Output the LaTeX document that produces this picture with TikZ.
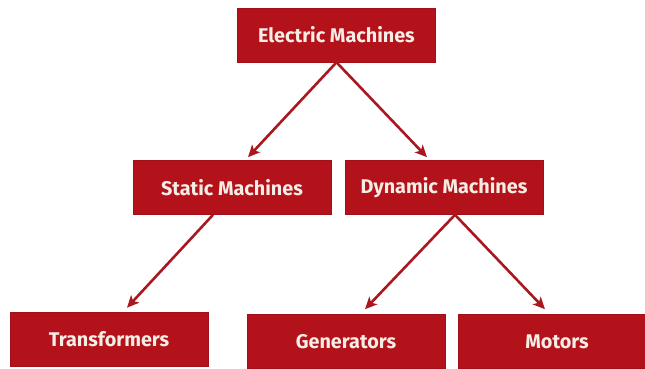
\documentclass[tikz,border=0pt]{standalone}
\usepackage{fontspec}
\setmainfont{Fira Sans}
\usetikzlibrary{arrows.meta,positioning,calc}
\definecolor{boxred}{HTML}{B3121B}
\definecolor{arrowred}{HTML}{A8181E}
\definecolor{boxtext}{HTML}{F6EEE6}
\tikzset{
  machinebox/.style={draw=boxred!90!black, fill=boxred, line width=0.6pt,
    minimum width=198pt, minimum height=54pt, align=center, inner sep=2pt,
    text=boxtext, font=\fontsize{19.8}{23}\selectfont\bfseries},
  branch/.style={-{Stealth[length=12pt, width=11pt, inset=3pt]}, draw=arrowred,
    line width=2.6pt, shorten <=0pt},
}

\begin{document}
\begin{tikzpicture}[x=1pt, y=-1pt]

  \useasboundingbox (0,0) rectangle (645,368);

  \node[machinebox] (em)  at (336.5, 35)  {Electric Machines};
  \node[machinebox] (sm)  at (232, 187.5) {Static Machines};
  \node[machinebox] (dm)  at (444, 187.5) {Dynamic Machines};
  \node[machinebox] (tr)  at (109, 339)   {Transformers};
  \node[machinebox] (gen) at (346, 341.5) {Generators};
  \node[machinebox] (mot) at (557, 341.5) {Motors};

  \draw[branch] (em.south) -- ([xshift=16pt, yshift=3pt]sm.north);
  \draw[branch] (em.south) -- ([xshift=-17pt, yshift=3pt]dm.north);
  \draw[branch] ([xshift=-19pt]sm.south) -- ([xshift=18pt, yshift=4pt]tr.north);
  \draw[branch] ([xshift=11pt]dm.south) -- ([xshift=19pt, yshift=5pt]gen.north);
  \draw[branch] ([xshift=11pt]dm.south) -- ([xshift=-12pt, yshift=5pt]mot.north);

\end{tikzpicture}
\end{document}
